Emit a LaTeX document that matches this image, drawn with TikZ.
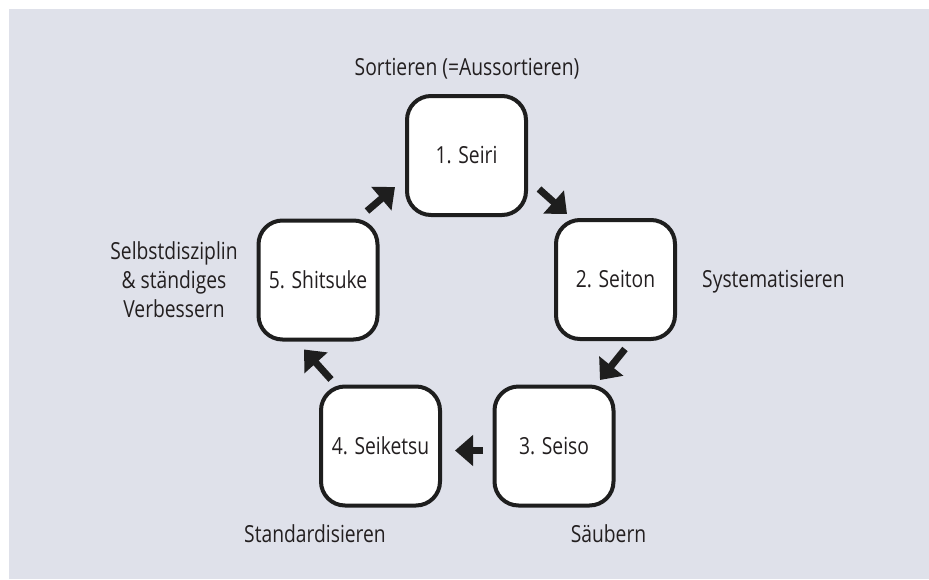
\documentclass[tikz,border=0pt]{standalone}
\usepackage{fontspec}
\setmainfont{Open Sans}[FakeStretch=0.82]
\usetikzlibrary{arrows.meta,calc}
\definecolor{bgcol}{RGB}{223,225,234}
\definecolor{ink}{RGB}{30,30,30}
\definecolor{txt}{RGB}{35,31,32}
\begin{document}
\begin{tikzpicture}[x=1pt,y=-1pt,
  every node/.style={font=\fontsize{23.5}{29}\selectfont, text=txt, inner sep=0pt},
  stage/.style={draw=ink, line width=4pt, fill=white, rounded corners=24pt,
    minimum width=119pt, minimum height=119pt},
  lbl/.style={anchor=base},
  arr/.style={draw=ink, line width=7pt, -{Triangle[width=30pt,length=18pt]}}]
\useasboundingbox (0,0) rectangle (929,579);
\fill[white] (0,0) rectangle (929,579);
\fill[bgcol] (9,9) rectangle (929,579);
% stages
\node[stage] (n1) at (466.5,155.5) {1. Seiri};
\node[stage] (n2) at (615.5,279.5) {2. Seiton};
\node[stage] (n3) at (554,446) {3. Seiso};
\node[stage] (n4) at (380.5,446) {4. Seiketsu};
\node[stage] (n5) at (318,280) {5. Shitsuke};
% labels
\node[lbl] (l1) at (467,75) {Sortieren (=Aussortieren)};
\node[lbl, anchor=base west] (l2) at (702,287) {Systematisieren};
\node[lbl] (l3) at (608.5,542) {Säubern};
\node[lbl] (l4) at (315,542) {Standardisieren};
\node[lbl, align=center] (l5) at (174,317) {Selbstdisziplin\\\& ständiges\\Verbessern};
% arrows
\coordinate (t12) at ($(n1.south east)+(11,-28)$);
\coordinate (h12) at ($(n2.north west)+(13,-4)$);
\coordinate (t23) at ($(n2.south)+(9.5,8)$);
\coordinate (h23) at ($(n3.north east)+(-15.5,-4.5)$);
\coordinate (t34) at ($(n3.west)+(-9.5,4.5)$);
\coordinate (h34) at ($(n4.east)+(13,4.5)$);
\coordinate (t45) at ($(n4.north west)+(12,-5)$);
\coordinate (h45) at ($(n5.south west)+(47.5,8)$);
\coordinate (t51) at ($(n5.north east)+(-12.5,-7.5)$);
\coordinate (h51) at ($(n1.south west)+(-10,-30)$);
\draw[arr] (t12) -- (h12);
\draw[arr] (t23) -- (h23);
\draw[arr] (t34) -- (h34);
\draw[arr] (t45) -- (h45);
\draw[arr] (t51) -- (h51);
\end{tikzpicture}
\end{document}
